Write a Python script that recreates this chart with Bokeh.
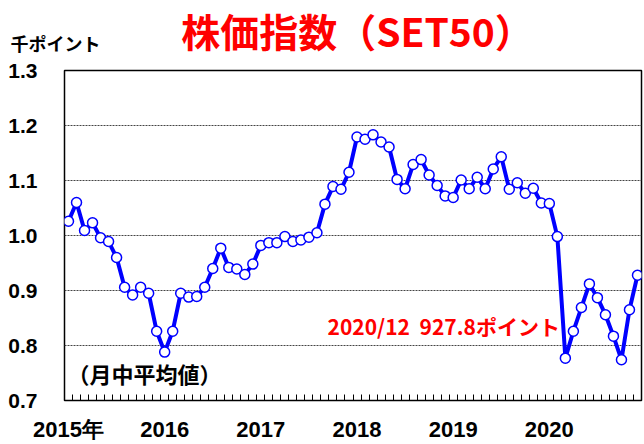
from bokeh.plotting import figure
from bokeh.models import Range1d, FixedTicker, NumeralTickFormatter, Label
from bokeh.core.properties import value
from bokeh.embed import file_html
from bokeh.resources import INLINE

# Monthly average of SET50 index (thousand points), Jan 2015 - Dec 2020
set50 = [
    1.026, 1.060, 1.009, 1.023, 0.996, 0.989, 0.960, 0.906, 0.892, 0.906, 0.895, 0.826,
    0.788, 0.826, 0.895, 0.888, 0.889, 0.906, 0.940, 0.977, 0.942, 0.939, 0.929, 0.948,
    0.982, 0.987, 0.987, 0.998, 0.989, 0.992, 0.997, 1.005, 1.057, 1.089, 1.084, 1.115,
    1.179, 1.175, 1.183, 1.170, 1.161, 1.102, 1.085, 1.129, 1.138, 1.110, 1.091, 1.072,
    1.069, 1.101, 1.085, 1.106, 1.085, 1.121, 1.143, 1.084, 1.096, 1.077, 1.086, 1.059,
    1.058, 0.998, 0.777, 0.826, 0.869, 0.912, 0.887, 0.856, 0.817, 0.774, 0.865, 0.9278,
]
months = list(range(len(set50)))
year_ticks = [0, 12, 24, 36, 48, 60]
year_labels = ["2015年", "2016", "2017", "2018", "2019", "2020"]
y_ticks = [0.7, 0.8, 0.9, 1.0, 1.1, 1.2, 1.3]
grid_ticks = [0.8, 0.9, 1.0, 1.1, 1.2]

FONT = "Noto Sans CJK JP"
LATIN = "Liberation Sans"

# frame placement (pixels)
FL, FR, FT, FB = 64, 641, 70, 403
W, H = 644, 444
X0, X1, Y0, Y1 = -0.5, 71.5, 0.7, 1.3

def px_x(px):
    return X0 + (px - FL) / (FR - FL) * (X1 - X0)

def px_y(py):
    return Y1 - (py - FT) / (FB - FT) * (Y1 - Y0)

p = figure(width=W, height=H, output_backend="svg", toolbar_location=None,
           x_range=Range1d(X0, X1), y_range=Range1d(Y0, Y1))
p.min_border_left = FL
p.min_border_right = W - FR
p.min_border_top = FT
p.min_border_bottom = H - FB
p.outline_line_color = "black"
p.outline_line_width = 1.5
p.background_fill_color = "white"
p.border_fill_color = "white"
p.title.visible = False

p.xgrid.visible = False
p.ygrid.ticker = FixedTicker(ticks=grid_ticks)
p.ygrid.grid_line_color = "#444444"
p.ygrid.grid_line_dash = "2 1"
p.ygrid.grid_line_width = 1

yax = p.yaxis[0]
yax.ticker = FixedTicker(ticks=y_ticks)
yax.formatter = NumeralTickFormatter(format="0.0")
yax.major_tick_in = 0
yax.major_tick_out = 0
yax.minor_tick_in = 0
yax.minor_tick_out = 0
yax.axis_line_color = None
yax.major_label_standoff = 27
yax.major_label_text_font = LATIN
yax.major_label_text_font_style = "bold"
yax.major_label_text_font_size = "21px"
yax.major_label_text_color = "black"

xax = p.xaxis[0]
xax.ticker = FixedTicker(ticks=year_ticks, minor_ticks=[m + 0.5 for m in range(-1, 72)])
xax.major_label_overrides = {t: l for t, l in zip(year_ticks, year_labels)}
xax.major_tick_in = 0
xax.major_tick_out = 0
xax.minor_tick_in = 6
xax.minor_tick_out = 0
xax.minor_tick_line_color = "black"
xax.axis_line_color = "black"
xax.major_label_standoff = 16
xax.major_label_text_font = LATIN
xax.major_label_text_font_style = "bold"
xax.major_label_text_font_size = "22px"
xax.major_label_text_color = "black"

p.line(months, set50, line_color="#0000ff", line_width=4)
p.scatter(months, set50, size=10, fill_color="white", line_color="#0000ff", line_width=1.5)

# texts outside the frame (overlay level, not clipped)
p.text(x=[px_x(357)], y=[px_y(29)], text=["株価指数（SET50）"], text_font=value(FONT),
       text_font_style="bold", text_font_size="39px", text_color="#ff0000",
       text_align="center", text_baseline="middle", level="overlay")
p.text(x=[px_x(10)], y=[px_y(42)], text=["千ポイント"], text_font=value(FONT),
       text_font_style="bold", text_font_size="18px", text_color="black",
       text_align="left", text_baseline="middle", level="overlay")

def add_label(text, x, y, size, color="black", align="left"):
    p.add_layout(Label(x=x - FL, y=FB - y, x_units="screen", y_units="screen",
                       text=text, text_font=FONT, text_font_style="bold",
                       text_font_size=size, text_color=color,
                       text_align=align, text_baseline="middle"))

add_label("（月中平均値）", 67, 375, "22px")
add_label("2020/12\u00a0\u00a0927.8ポイント", 327, 328, "21px", color="#ff0000")

open("out.html", "w").write(file_html(p, INLINE))
